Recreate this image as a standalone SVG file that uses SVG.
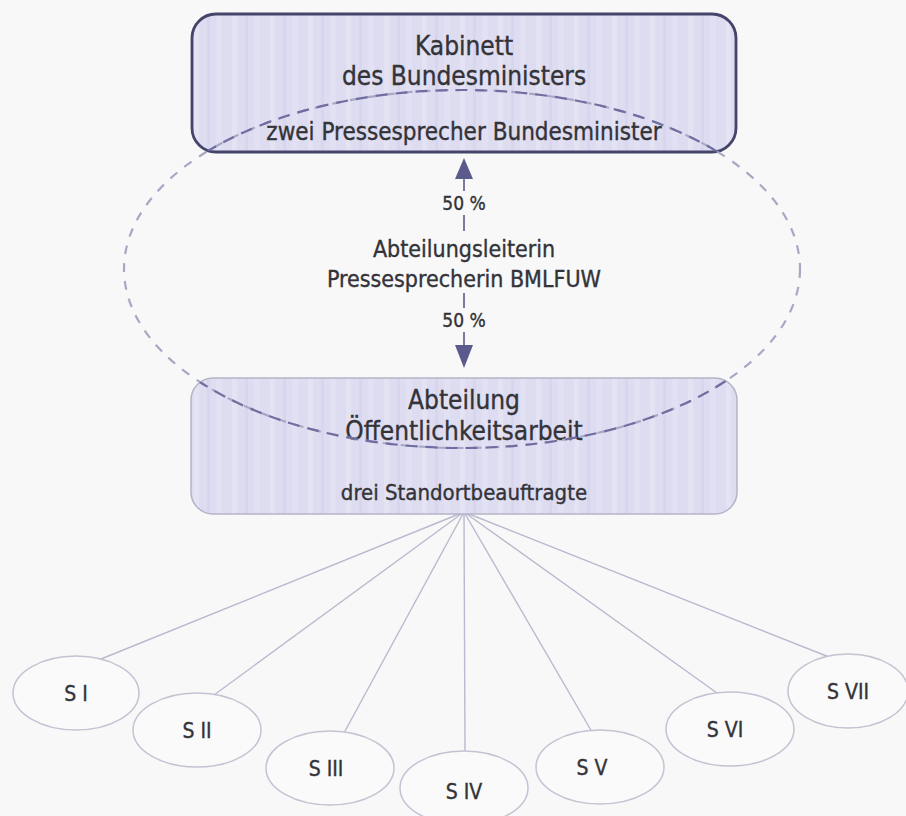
<svg xmlns="http://www.w3.org/2000/svg" width="906" height="816" viewBox="0 0 906 816">
<defs>
<style>
.t{font-family:"DejaVu Sans Condensed","DejaVu Sans",sans-serif;fill:#333338;stroke:#333338;stroke-width:0.35;text-anchor:middle}
.spoke{stroke:#b9b9cf;stroke-width:1.4;fill:none}
.sat{fill:#fafafa;stroke:#c3c3d3;stroke-width:1.5}
.dash{fill:none;stroke-width:2.2}
.stem{stroke:#6e6d92;stroke-width:1.8}
.head{fill:#5b5a8c}
</style>
<pattern id="stripes" patternUnits="userSpaceOnUse" x="0" y="0" width="38" height="10">
<rect width="38" height="10" fill="#dddcf1"/>
<rect x="4" width="5" height="10" fill="#e4e3f4"/>
<rect x="17" width="3" height="10" fill="#d7d6ee"/>
<rect x="26" width="6" height="10" fill="#e2e1f3"/>
</pattern>
<clipPath id="boxes">
<rect x="192" y="14" width="544" height="138" rx="24"/>
<rect x="191" y="378" width="546" height="136" rx="22"/>
</clipPath>
</defs>
<rect width="906" height="816" fill="#f8f8f8"/>
<g id="connectors">
<line class="spoke" x1="464" y1="512" x2="101" y2="659"/>
<line class="spoke" x1="464" y1="512" x2="214" y2="695"/>
<line class="spoke" x1="464" y1="512" x2="344" y2="733"/>
<line class="spoke" x1="464" y1="512" x2="465" y2="751"/>
<line class="spoke" x1="464" y1="512" x2="592" y2="732"/>
<line class="spoke" x1="464" y1="512" x2="717" y2="693"/>
<line class="spoke" x1="464" y1="512" x2="829" y2="657"/>
<path class="head" d="M464,158 L473,179 L455,179 z"/>
<line class="stem" x1="464" y1="178" x2="464" y2="191"/>
<line class="stem" x1="464" y1="215" x2="464" y2="231"/>
<line class="stem" x1="464" y1="293" x2="464" y2="308"/>
<line class="stem" x1="464" y1="332" x2="464" y2="346"/>
<path class="head" d="M464,368 L473,345 L455,345 z"/>
</g>
<g id="kabinett">
<rect x="192" y="14" width="544" height="138" rx="24" fill="url(#stripes)" stroke="#45446a" stroke-width="2.8"/>
<text class="t" x="464" y="55" font-size="26">Kabinett</text>
<text class="t" x="464" y="85" font-size="26">des Bundesministers</text>
<text class="t" x="464" y="140" font-size="24">zwei Pressesprecher Bundesminister</text>
</g>
<g id="abteilung">
<rect x="191" y="378" width="546" height="136" rx="22" fill="url(#stripes)" stroke="#b4b4c8" stroke-width="1.5"/>
<text class="t" x="464" y="409" font-size="26">Abteilung</text>
<text class="t" x="464" y="440" font-size="26">Öffentlichkeitsarbeit</text>
<text class="t" x="464" y="500" font-size="22">drei Standortbeauftragte</text>
</g>
<g id="pressesprecherin">
<text class="t" x="464" y="210" font-size="19">50 %</text>
<text class="t" x="464" y="257" font-size="23">Abteilungsleiterin</text>
<text class="t" x="464" y="287" font-size="23">Pressesprecherin BMLFUW</text>
<text class="t" x="464" y="327" font-size="19">50 %</text>
</g>
<g id="scope">
<ellipse class="dash" cx="462" cy="269" rx="338" ry="179" stroke="#a9a8c4" stroke-dasharray="9 9"/>
<ellipse class="dash" cx="462" cy="269" rx="338" ry="179" stroke="#6f6ea0" stroke-dasharray="12 8" stroke-width="2.6" clip-path="url(#boxes)"/>
</g>
<g id="s1"><ellipse class="sat" cx="76" cy="693" rx="63" ry="37"/><text class="t" x="76" y="701" font-size="21">S I</text></g>
<g id="s2"><ellipse class="sat" cx="197" cy="730" rx="64" ry="37"/><text class="t" x="197" y="738" font-size="21">S II</text></g>
<g id="s3"><ellipse class="sat" cx="330" cy="768" rx="64" ry="37"/><text class="t" x="326" y="776" font-size="21">S III</text></g>
<g id="s4"><ellipse class="sat" cx="464" cy="788" rx="64" ry="37"/><text class="t" x="464" y="799" font-size="21">S IV</text></g>
<g id="s5"><ellipse class="sat" cx="600" cy="767" rx="64" ry="37"/><text class="t" x="592" y="775" font-size="21">S V</text></g>
<g id="s6"><ellipse class="sat" cx="730" cy="729" rx="64" ry="37"/><text class="t" x="725" y="737" font-size="21">S VI</text></g>
<g id="s7"><ellipse class="sat" cx="848" cy="691" rx="60" ry="37"/><text class="t" x="848" y="699" font-size="21">S VII</text></g>
</svg>
